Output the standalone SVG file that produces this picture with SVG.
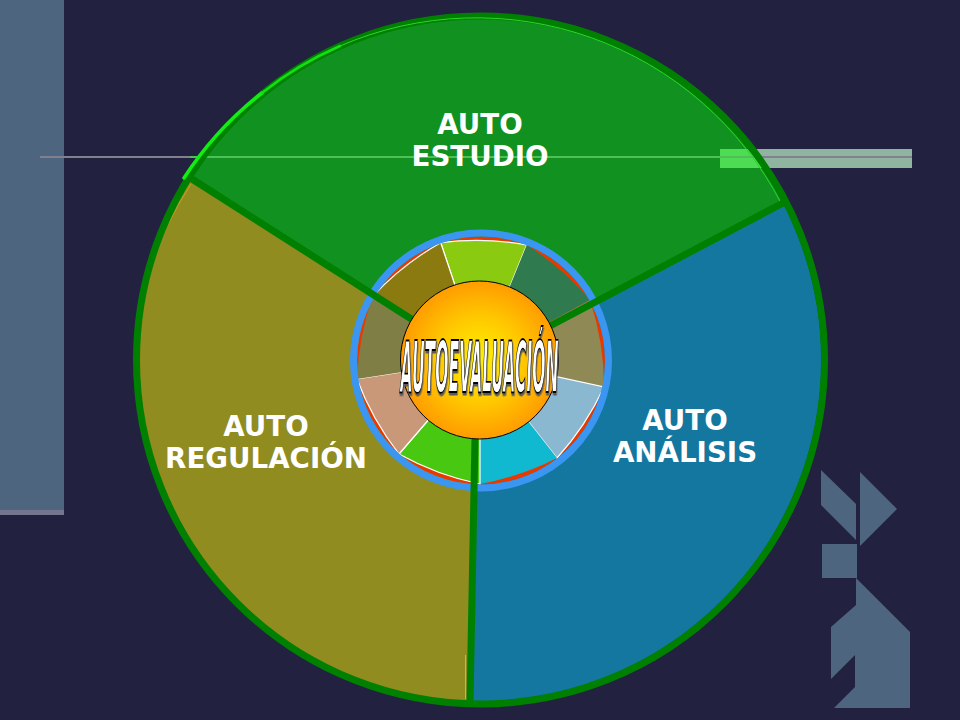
<svg xmlns="http://www.w3.org/2000/svg" width="960" height="720" viewBox="0 0 960 720">
<style>
.lab{font-family:"DejaVu Sans","Liberation Sans",sans-serif;font-weight:700;font-size:27.7px;fill:#fff;text-anchor:middle}
.wa{font-family:"DejaVu Sans","Liberation Sans",sans-serif;font-weight:700;font-style:italic;font-size:71px;fill:#fff;stroke:#000;stroke-width:1.3px;vector-effect:non-scaling-stroke;filter:url(#shade)}
.w{stroke:#fff;stroke-width:1.2}
.spoke{stroke:#008000;stroke-width:7;fill:none}
.hl{fill:none;stroke-linecap:round}
</style>
<defs>
<radialGradient id="orb" cx="50%" cy="50%" r="50%"><stop offset="0" stop-color="#fff200"/><stop offset="0.55" stop-color="#ffc800"/><stop offset="1" stop-color="#ff9c00"/></radialGradient>
<filter id="shade" x="-5%" y="-10%" width="110%" height="120%"><feDropShadow dx="2.5" dy="2.5" stdDeviation="0" flood-color="#5a5a5a"/></filter>
</defs>
<rect width="960" height="720" fill="#222240"/>
<g id="decor">
<rect x="0" y="0" width="64" height="510" fill="#4d657f"/>
<rect x="0" y="510" width="64" height="5" fill="#75758f"/>
<rect x="720" y="149" width="192" height="19" fill="#8fb5a0"/>
<rect x="40" y="156" width="872" height="2" fill="#80808f"/>
<g fill="#4d657f">
<polygon points="821,470 856,504 856,540 821,505"/>
<polygon points="860,472 897,509 860,546"/>
<rect x="822" y="544" width="35" height="34"/>
<polygon points="856,578 910,632 910,708 834,708 855,687 855,655 831,679 831,627 856,605"/>
</g>
</g>
<g id="sector-estudio">
<path d="M190,180 A341,341 0 0 1 783,203 L480,360 Z" fill="#119120"/>
<path d="M720,149 H751 L764,168 H720 Z" fill="#4fdc55"/>
<rect x="190" y="156" width="570" height="2" fill="#4fc058"/>
<text class="lab" x="480" y="134">AUTO</text>
<text class="lab" x="480" y="166">ESTUDIO</text>
</g>
<g id="sector-analisis">
<path d="M783,203 A341,341 0 0 1 471,701 L480,360 Z" fill="#1377a0"/>
<text class="lab" x="685" y="430">AUTO</text>
<text class="lab" x="685" y="462">ANÁLISIS</text>
</g>
<g id="sector-regulacion">
<path d="M190,180 A341,341 0 0 0 471,701 L480,360 Z" fill="#908c1f"/>
<path d="M191,184 A341,341 0 0 0 150,270" fill="none" stroke="#c8a020" stroke-width="1"/>
<line x1="465.500" y1="655" x2="465.500" y2="699" stroke="#b8c040" stroke-width="1"/>
<text class="lab" x="266" y="436">AUTO</text>
<text class="lab" x="266" y="468">REGULACIÓN</text>
</g>
<g id="rim">
<circle cx="480.500" cy="360" r="344" fill="none" stroke="#008000" stroke-width="7"/>
<path class="hl" d="M184,178 A346,346 0 0 1 262,93" stroke="#11ee11" stroke-width="3.5"/>
<path class="hl" d="M262,93 A345,345 0 0 1 340,46" stroke="#11e011" stroke-width="2.5"/>
<path class="hl" d="M340,46 A343,343 0 0 1 781,203" stroke="#28d828" stroke-width="1"/>
</g>
<g id="wheel">
<circle cx="481" cy="360.500" r="124" fill="#e83a00"/>
<path d="M480,360 L440.700,242.700 A280,280 0 0 1 526.700,245 Z" fill="#8aca10" class="w"/>
<path d="M480,360 L526.700,245 A280,280 0 0 1 590,300 Z" fill="#2f7a4e"/>
<path d="M480,360 L590,300 A280,280 0 0 1 604,387 Z" fill="#8f8a55"/>
<path d="M480,360 L604,387 A280,280 0 0 1 557,458 Z" fill="#8ab8d0" class="w"/>
<path d="M480,360 L557,458 A280,280 0 0 1 480,484 Z" fill="#10b8d0"/>
<path d="M480,360 L480,484 A280,280 0 0 1 399,454 Z" fill="#48c810" class="w"/>
<path d="M480,360 L399,454 A280,280 0 0 1 357,379 Z" fill="#c89878" class="w"/>
<path d="M480,360 L357,379 A280,280 0 0 1 373,296 Z" fill="#7f7f45"/>
<path d="M480,360 L373,296 A280,280 0 0 1 440.700,242.700 Z" fill="#8a7a10" class="w"/>
<circle cx="481" cy="360.500" r="127.500" fill="none" stroke="#3a96f0" stroke-width="7"/>
</g>
<g id="connectors">
<line class="spoke" x1="192" y1="179" x2="416" y2="322"/>
<line class="spoke" x1="783" y1="203" x2="548" y2="327"/>
<line class="spoke" x1="475" y1="438" x2="470" y2="702"/>
</g>
<g id="core">
<circle cx="479.500" cy="360" r="79" fill="url(#orb)" stroke="#000" stroke-width="1"/>
<text class="wa" transform="translate(400.500,392) scale(.22,1)">AUTOEVALUACIÓN</text>
</g>
</svg>
